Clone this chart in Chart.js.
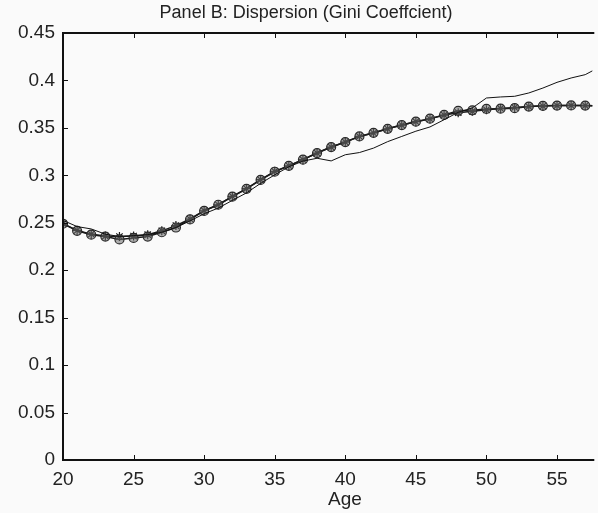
<!DOCTYPE html>
<html>
<head>
<meta charset="utf-8">
<script src="https://cdn.jsdelivr.net/npm/chart.js@4"></script>
<style>
  html, body { margin: 0; padding: 0; background: #fafafa; }
  canvas { display: block; }
</style>
</head>
<body>
<canvas id="gini-chart" width="598" height="513"></canvas>
<script>
// ages and Gini values
const ages = [20, 21, 22, 23, 24, 25, 26, 27, 28, 29, 30, 31, 32, 33, 34, 35, 36, 37, 38, 39,
              40, 41, 42, 43, 44, 45, 46, 47, 48, 49, 50, 51, 52, 53, 54, 55, 56, 57, 58];

const dataGini = [0.2525, 0.246, 0.2435, 0.238, 0.2355, 0.2365, 0.2375, 0.240, 0.245, 0.252,
                  0.2595, 0.2655, 0.2736, 0.2815, 0.2915, 0.3005, 0.309, 0.315, 0.318, 0.3152,
                  0.3217, 0.324, 0.3287, 0.3355, 0.341, 0.3465, 0.351, 0.3586, 0.3664, 0.371,
                  0.3815, 0.3826, 0.3833, 0.3868, 0.392, 0.398, 0.4026, 0.4061, 0.414];

const circleGini = [0.249, 0.2415, 0.2375, 0.2355, 0.2325, 0.234, 0.2355, 0.240, 0.245, 0.2535,
                    0.2625, 0.269, 0.2775, 0.2858, 0.2952, 0.3038, 0.310, 0.3165, 0.3235, 0.3298,
                    0.335, 0.341, 0.3448, 0.349, 0.353, 0.3565, 0.3597, 0.3637, 0.368, 0.3685,
                    0.370, 0.3703, 0.3708, 0.3725, 0.3733, 0.3735, 0.3737, 0.3735, 0.3733];

const starGini = [0.249, 0.242, 0.238, 0.236, 0.2355, 0.236, 0.2375, 0.2415, 0.247, 0.254,
                  0.2627, 0.269, 0.2778, 0.286, 0.2954, 0.3042, 0.3101, 0.3165, 0.3235, 0.3298,
                  0.3351, 0.341, 0.3446, 0.349, 0.353, 0.3565, 0.3595, 0.3635, 0.366, 0.3675,
                  0.369, 0.3705, 0.3715, 0.3725, 0.373, 0.3735, 0.3737, 0.3735, 0.3733];

const xTicks = [20, 25, 30, 35, 40, 45, 50, 55];
const yTicks = [0, 0.05, 0.1, 0.15, 0.2, 0.25, 0.3, 0.35, 0.4, 0.45];
const yTickLabels = ['0', '0.05', '0.1', '0.15', '0.2', '0.25', '0.3', '0.35', '0.4', '0.45'];

const titleText = 'Panel B: Dispersion (Gini Coeffcient)';
const xLabelText = 'Age';

const FONT = '"Liberation Sans", Arial, Helvetica, sans-serif';

function toPoints(ys) {
    return ages.map((a, i) => ({ x: a, y: ys[i] }));
}

// background, inward ticks, box and the text around the axes
const matlabFrame = {
    id: 'matlabFrame',
    beforeDraw(chart) {
        const ctx = chart.ctx;
        ctx.save();
        ctx.fillStyle = '#fafafa';
        ctx.fillRect(0, 0, chart.width, chart.height);
        ctx.restore();
    },
    afterDraw(chart) {
        const { ctx, chartArea: area, scales } = chart;
        const tickLen = 5;
        ctx.save();
        ctx.strokeStyle = '#111';
        ctx.lineWidth = 1;
        ctx.beginPath();
        xTicks.forEach(v => {
            const px = Math.round(scales.x.getPixelForValue(v)) + 0.5;
            ctx.moveTo(px, area.bottom);
            ctx.lineTo(px, area.bottom - tickLen);
            ctx.moveTo(px, area.top);
            ctx.lineTo(px, area.top + tickLen);
        });
        yTicks.forEach(v => {
            const py = Math.round(scales.y.getPixelForValue(v)) + 0.5;
            ctx.moveTo(area.left, py);
            ctx.lineTo(area.left + tickLen, py);
        });
        ctx.stroke();

        ctx.lineWidth = 2;
        ctx.beginPath();
        ctx.moveTo(area.right + 2, area.top);
        ctx.lineTo(area.left, area.top);
        ctx.lineTo(area.left, area.bottom);
        ctx.lineTo(area.right + 2, area.bottom);
        ctx.stroke();

        ctx.fillStyle = '#222';
        ctx.textAlign = 'center';
        ctx.textBaseline = 'middle';
        ctx.font = '18px ' + FONT;
        ctx.fillText(titleText, 306, 13);
        ctx.font = '19px ' + FONT;
        ctx.fillText(xLabelText, 345, 500);
        ctx.restore();
    }
};

function init() {
    const ctx = document.getElementById('gini-chart').getContext('2d');
    new Chart(ctx, {
        type: 'line',
        data: {
            datasets: [
                {
                    label: 'Data',
                    data: toPoints(dataGini),
                    borderColor: '#111',
                    borderWidth: 1,
                    pointRadius: 0,
                    tension: 0
                },
                {
                    label: 'Model (circles)',
                    data: toPoints(circleGini),
                    borderColor: '#1a1a1a',
                    borderWidth: 1.5,
                    pointStyle: 'circle',
                    pointRadius: 4.5,
                    pointBorderWidth: 1.2,
                    pointBorderColor: '#2a2a2a',
                    pointBackgroundColor: 'rgba(110,110,110,0.55)',
                    tension: 0
                },
                {
                    label: 'Model (stars)',
                    data: toPoints(starGini),
                    borderColor: '#1a1a1a',
                    borderWidth: 1.5,
                    pointStyle: 'star',
                    pointRadius: 4.5,
                    pointBorderWidth: 1.2,
                    pointBorderColor: '#1a1a1a',
                    pointBackgroundColor: 'transparent',
                    tension: 0
                }
            ]
        },
        options: {
            responsive: false,
            animation: false,
            devicePixelRatio: 1,
            layout: { padding: { top: 33, right: 0, left: 0, bottom: 0 } },
            plugins: {
                legend: { display: false },
                tooltip: { enabled: false },
                title: { display: false }
            },
            scales: {
                x: {
                    type: 'linear',
                    min: 20,
                    max: 57.5,
                    grid: { display: false },
                    border: { display: false },
                    afterBuildTicks: scale => { scale.ticks = xTicks.map(v => ({ value: v })); },
                    afterFit: scale => { scale.height = 53; },
                    ticks: {
                        color: '#222',
                        padding: 0,
                        maxRotation: 0,
                        autoSkip: false,
                        font: { family: FONT, size: 19 },
                        callback: v => String(v)
                    }
                },
                y: {
                    min: 0,
                    max: 0.45,
                    grid: { display: false },
                    border: { display: false },
                    afterBuildTicks: scale => { scale.ticks = yTicks.map(v => ({ value: v })); },
                    afterFit: scale => { scale.width = 63; },
                    ticks: {
                        color: '#222',
                        padding: 0,
                        autoSkip: false,
                        font: { family: FONT, size: 19 },
                        callback: v => yTickLabels[yTicks.findIndex(t => Math.abs(t - v) < 1e-9)]
                    }
                }
            }
        },
        plugins: [matlabFrame]
    });
}

document.addEventListener('DOMContentLoaded', init);
</script>
</body>
</html>
